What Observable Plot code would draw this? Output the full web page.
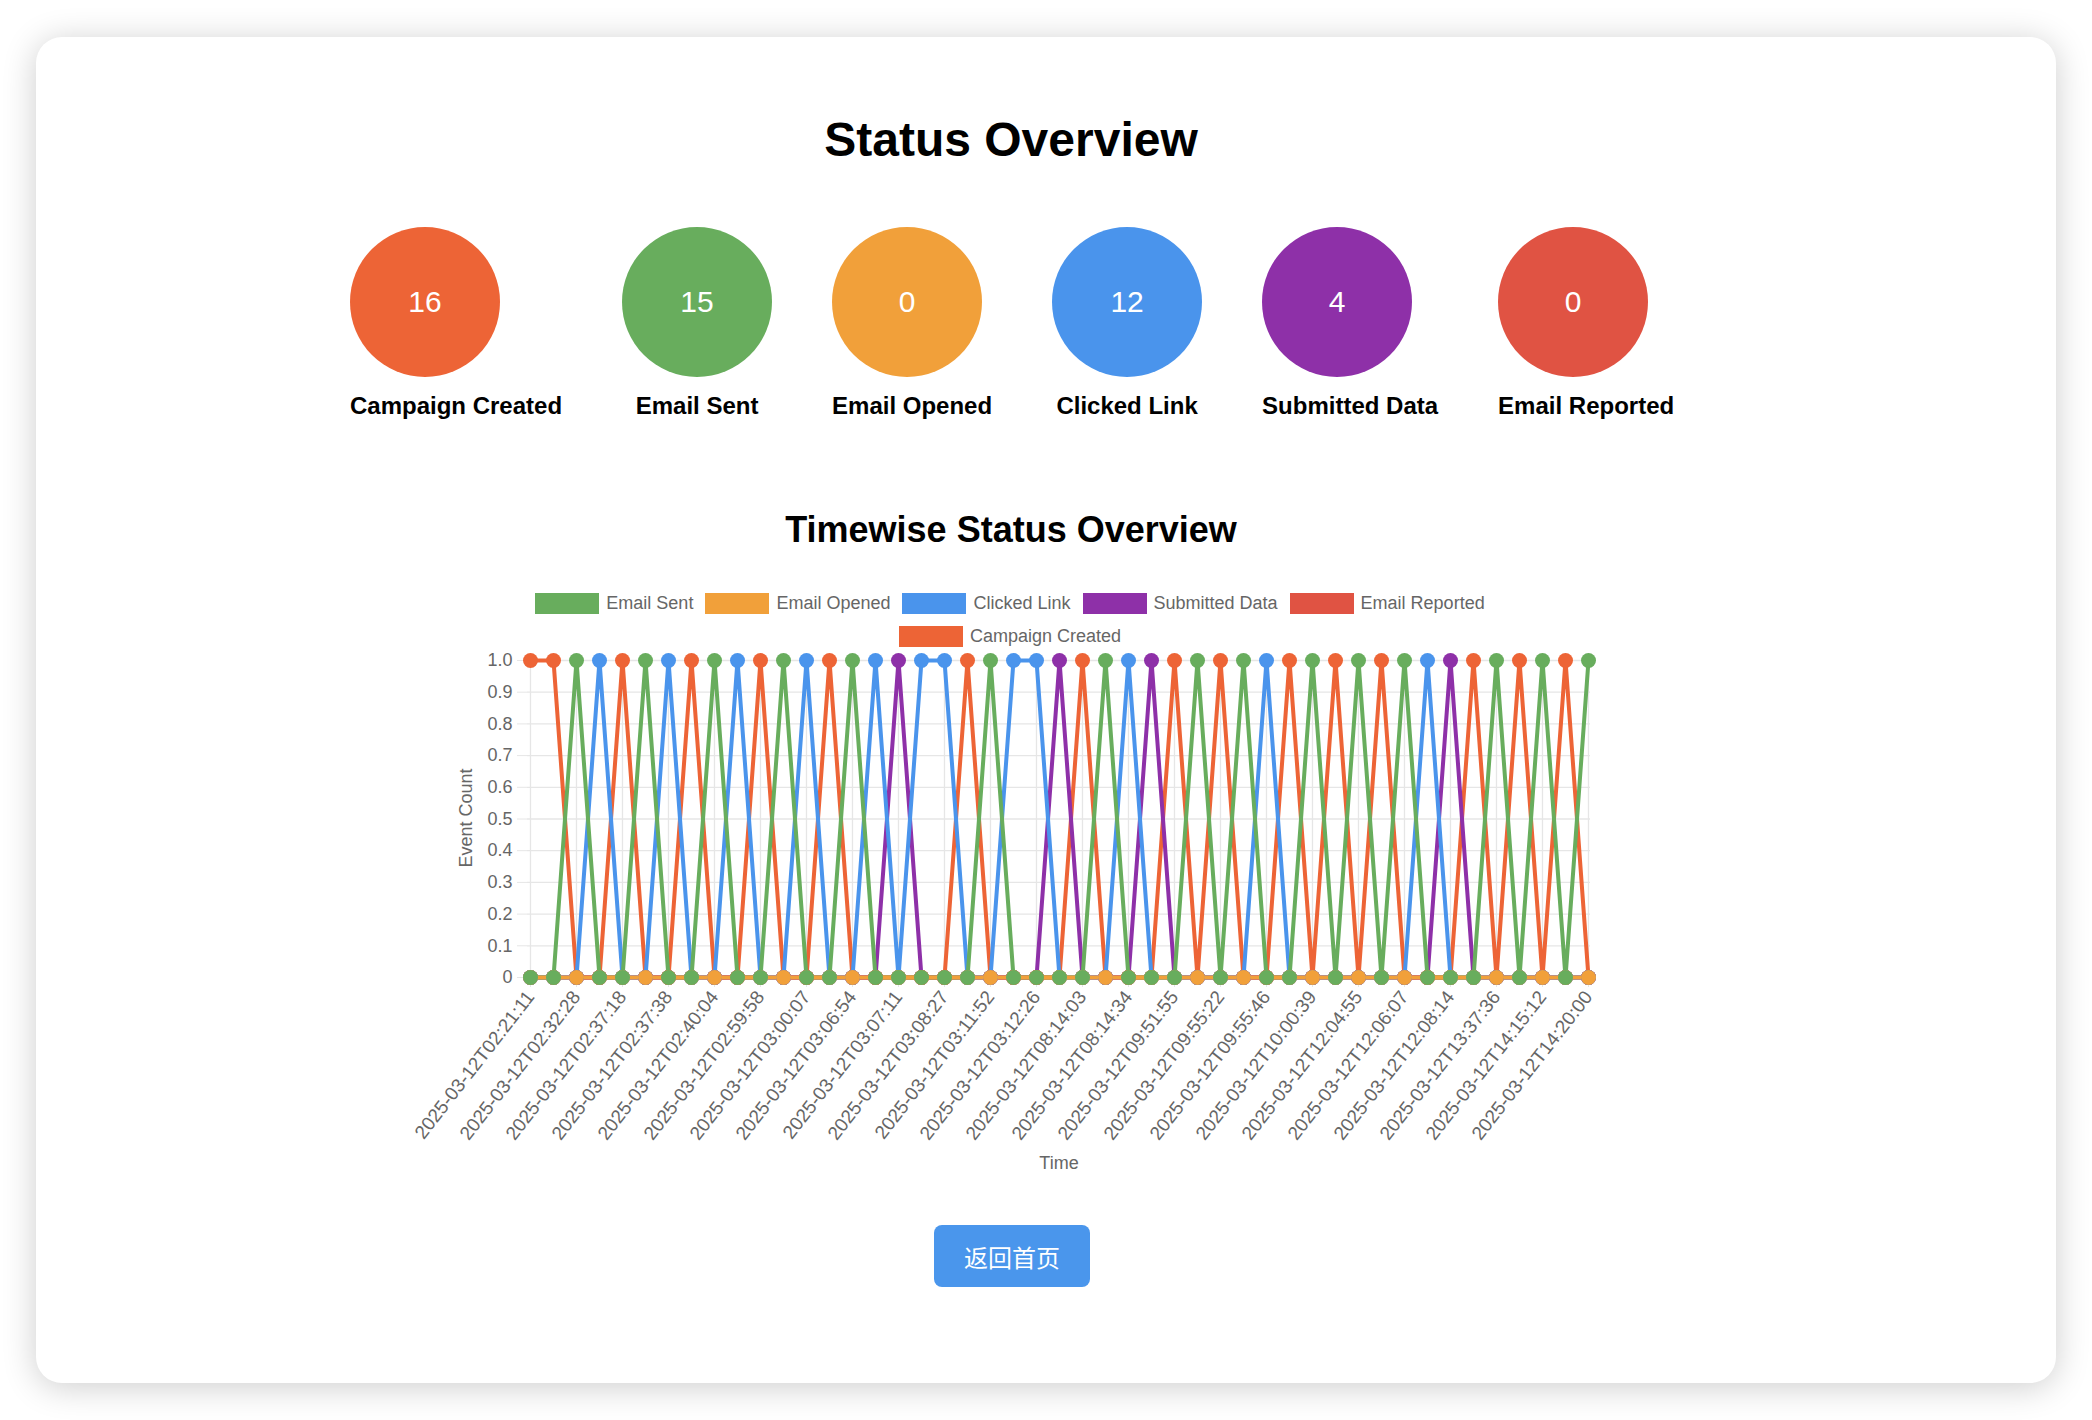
<!DOCTYPE html>
<html>
<head>
<meta charset="utf-8">
<script src="https://cdn.jsdelivr.net/npm/d3@7"></script>
<script src="https://cdn.jsdelivr.net/npm/@observablehq/plot@0.6"></script>
<style>
  html, body { margin: 0; padding: 0; background: #ffffff; width: 2092px; height: 1420px; overflow: hidden; }
  body { position: relative; font-family: "Liberation Sans", Arial, Helvetica, sans-serif; }
  #card { position: absolute; left: 36px; top: 37px; width: 2020px; height: 1346px; background: #fff; border-radius: 26px; box-shadow: 0 4px 34px rgba(0,0,0,0.20); }
  .abs { position: absolute; line-height: 1; white-space: nowrap; }
  #title { left: 0; width: 2022px; text-align: center; top: 116px; font-size: 48px; font-weight: bold; color: #000; }
  #stats { position: absolute; left: 350px; top: 227px; display: flex; gap: 60px; align-items: flex-start; }
  .stat { display: flex; flex-direction: column; align-items: flex-start; }
  .circle { width: 150px; height: 150px; border-radius: 50%; color: #fff; font-size: 30px; display: flex; align-items: center; justify-content: center; }
  .slabel { position: absolute; font-size: 24px; font-weight: bold; color: #000; line-height: 1; white-space: nowrap; }
  #ctitle { left: 0; width: 2022px; text-align: center; top: 512px; font-size: 36px; font-weight: bold; color: #000; }
  .legrow { position: absolute; left: 0; width: 2020px; display: flex; justify-content: center; align-items: center; height: 24px; }
  .legitem { display: flex; align-items: center; margin: 0 6px; font-size: 18px; color: #666; }
  .legbox { width: 64px; height: 21px; margin-right: 7px; }
  #chart { position: absolute; left: 420px; top: 650px; }
  #ylab { left: 466px; top: 818px; font-size: 18px; color: #666; transform: translate(-50%, -50%) rotate(-90deg); }
  #xlab { left: 1059px; top: 1163px; font-size: 18px; color: #666; transform: translate(-50%, -50%); }
  #btn { position: absolute; left: 934px; top: 1225px; width: 156px; height: 62px; background: #4a96ec; border-radius: 8px; color: #fff; font-family: "Noto Sans CJK SC", sans-serif; font-size: 24px; display: flex; align-items: center; justify-content: center; }
</style>
</head>
<body>
<div id="card"></div>
<div id="title" class="abs">Status Overview</div>
<div id="stats"></div>
<div id="ctitle" class="abs">Timewise Status Overview</div>
<div id="legend"></div>
<div id="chart"></div>
<div id="ylab" class="abs">Event Count</div>
<div id="xlab" class="abs">Time</div>
<div id="btn">返回首页</div>
<script>
// ---- data ----
const statNames = ["Campaign Created", "Email Sent", "Email Opened", "Clicked Link", "Submitted Data", "Email Reported"];
const statCounts = [16, 15, 0, 12, 4, 0];
const statColors = ["#ed6436", "#68ad5d", "#f1a03a", "#4a94ec", "#8e30a8", "#e05343"];

// legend / dataset order of the line chart
const seriesNames = ["Email Sent", "Email Opened", "Clicked Link", "Submitted Data", "Email Reported", "Campaign Created"];
const seriesColors = ["#68ad5d", "#f1a03a", "#4a94ec", "#8e30a8", "#e05343", "#ed6436"];

// event timestamps (every other one is labelled on the axis)
const eventTimes = [
  "2025-03-12T02:21:11", "2025-03-12T02:32:05", "2025-03-12T02:32:28", "2025-03-12T02:36:40",
  "2025-03-12T02:37:18", "2025-03-12T02:37:25", "2025-03-12T02:37:38", "2025-03-12T02:39:50",
  "2025-03-12T02:40:04", "2025-03-12T02:45:12", "2025-03-12T02:59:58", "2025-03-12T03:00:02",
  "2025-03-12T03:00:07", "2025-03-12T03:06:40", "2025-03-12T03:06:54", "2025-03-12T03:07:02",
  "2025-03-12T03:07:11", "2025-03-12T03:07:40", "2025-03-12T03:08:27", "2025-03-12T03:11:40",
  "2025-03-12T03:11:52", "2025-03-12T03:12:05", "2025-03-12T03:12:26", "2025-03-12T03:13:10",
  "2025-03-12T08:14:03", "2025-03-12T08:14:20", "2025-03-12T08:14:34", "2025-03-12T08:15:02",
  "2025-03-12T09:51:55", "2025-03-12T09:52:10", "2025-03-12T09:55:22", "2025-03-12T09:55:35",
  "2025-03-12T09:55:46", "2025-03-12T10:00:25", "2025-03-12T10:00:39", "2025-03-12T12:04:40",
  "2025-03-12T12:04:55", "2025-03-12T12:05:50", "2025-03-12T12:06:07", "2025-03-12T12:07:30",
  "2025-03-12T12:08:14", "2025-03-12T13:37:20", "2025-03-12T13:37:36", "2025-03-12T14:14:58",
  "2025-03-12T14:15:12", "2025-03-12T14:19:45", "2025-03-12T14:20:00"
];
// which status happened at each timestamp
const eventTypes = [
  "Campaign Created", "Campaign Created", "Email Sent", "Clicked Link",
  "Campaign Created", "Email Sent", "Clicked Link", "Campaign Created",
  "Email Sent", "Clicked Link", "Campaign Created", "Email Sent",
  "Clicked Link", "Campaign Created", "Email Sent", "Clicked Link",
  "Submitted Data", "Clicked Link", "Clicked Link", "Campaign Created",
  "Email Sent", "Clicked Link", "Clicked Link", "Submitted Data",
  "Campaign Created", "Email Sent", "Clicked Link", "Submitted Data",
  "Campaign Created", "Email Sent", "Campaign Created", "Email Sent",
  "Clicked Link", "Campaign Created", "Email Sent", "Campaign Created",
  "Email Sent", "Campaign Created", "Email Sent", "Clicked Link",
  "Submitted Data", "Campaign Created", "Email Sent", "Campaign Created",
  "Email Sent", "Campaign Created", "Email Sent"
];
const yTicks = [0, 0.1, 0.2, 0.3, 0.4, 0.5, 0.6, 0.7, 0.8, 0.9, 1.0];

// ---- stat circles ----
function measure(t) {
  const cv = measure.cv || (measure.cv = document.createElement("canvas"));
  const ctx = cv.getContext("2d");
  ctx.font = "bold 24px 'Liberation Sans', Arial";
  return ctx.measureText(t).width;
}
const stats = document.getElementById("stats");
statNames.forEach((name, i) => {
  const item = document.createElement("div");
  item.className = "stat";
  item.style.position = "relative";
  const c = document.createElement("div");
  c.className = "circle";
  c.style.background = statColors[i];
  c.textContent = statCounts[i];
  item.appendChild(c);
  const l = document.createElement("div");
  l.className = "slabel";
  l.textContent = name;
  item.appendChild(l);
  stats.appendChild(item);
  const tw = measure(name);
  const w = Math.max(150, tw);
  item.style.width = w + "px";
  l.style.left = ((w - tw) / 2) + "px";
  l.style.top = "167px";
});

// ---- legend ----
const legend = document.getElementById("legend");
const rows = [[0, 1, 2, 3, 4], [5]];
const rowY = [603, 636];
rows.forEach((r, ri) => {
  const row = document.createElement("div");
  row.className = "legrow";
  row.style.top = (rowY[ri] - 12) + "px";
  r.forEach(i => {
    const it = document.createElement("div");
    it.className = "legitem";
    const b = document.createElement("div");
    b.className = "legbox";
    b.style.background = seriesColors[i];
    const t = document.createElement("span");
    t.textContent = seriesNames[i];
    it.appendChild(b); it.appendChild(t);
    row.appendChild(it);
  });
  legend.appendChild(row);
});

// ---- chart ----
const rowsData = [];
seriesNames.forEach(s => {
  eventTimes.forEach((t, i) => rowsData.push({series: s, time: t, value: eventTypes[i] === s ? 1 : 0}));
});
const labelled = eventTimes.filter((d, i) => i % 2 === 0);
const lineOrder = ["Campaign Created", "Email Reported", "Submitted Data", "Clicked Link", "Email Sent", "Email Opened"];
const dotOrder = ["Campaign Created", "Email Reported", "Submitted Data", "Clicked Link", "Email Opened", "Email Sent"];

const chart = Plot.plot({
  width: 1220,
  height: 520,
  marginLeft: 107,
  marginRight: 50,
  marginTop: 10,
  marginBottom: 193,
  style: {fontFamily: "'Liberation Sans', Arial, sans-serif", fontSize: "18px", color: "#666", background: "transparent", overflow: "visible"},
  x: {type: "point", domain: eventTimes, padding: 0, axis: null},
  y: {domain: [0, 1], axis: null},
  color: {domain: seriesNames, range: seriesColors},
  marks: [
    Plot.gridY(yTicks, {stroke: "#e6e6e6", strokeOpacity: 1, strokeWidth: 1.3}),
    Plot.gridX(labelled, {stroke: "#e6e6e6", strokeOpacity: 1, strokeWidth: 1.3}),
    Plot.axisY(yTicks, {tickSize: 10, tickPadding: 5, stroke: "#e6e6e6", fill: "#666", label: null,
      tickFormat: d => d === 0 ? "0" : d.toFixed(1)}),
    Plot.axisX(labelled, {tickSize: 10, tickPadding: 6, tickRotate: -52, stroke: "#e6e6e6", fill: "#666", label: null, fontSize: 19}),
    ...lineOrder.map(s => Plot.line(rowsData.filter(d => d.series === s), {x: "time", y: "value", stroke: "series", strokeWidth: 4})),
    ...dotOrder.map(s => Plot.dot(rowsData.filter(d => d.series === s), {x: "time", y: "value", fill: "series", r: 7.5}))
  ]
});
document.getElementById("chart").appendChild(chart);
</script>
</body>
</html>
